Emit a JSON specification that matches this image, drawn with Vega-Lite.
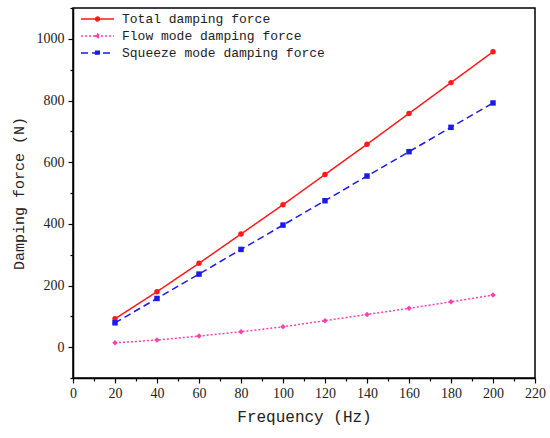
{
  "$schema": "https://vega.github.io/schema/vega-lite/v6.json",
  "autosize": "none",
  "width": 462,
  "height": 370,
  "padding": {"left": 73, "top": 8, "right": 15, "bottom": 60},
  "background": "white",
  "config": {
    "view": {"stroke": "black", "strokeWidth": 1.5},
    "axis": {
      "domainColor": "black", "domainWidth": 1.5,
      "tickColor": "black", "tickWidth": 1.2,
      "labelFont": "Liberation Serif", "labelFontSize": 14, "labelColor": "#222",
      "titleFont": "Liberation Mono", "titleFontWeight": "normal", "titleColor": "#222",
      "grid": false
    },
    "legend": {"labelFont": "Liberation Mono", "labelFontSize": 13, "labelColor": "#222", "labelLimit": 400}
  },
  "data": {"values": [
    {"freq": 20, "series": "Total damping force", "force": 92},
    {"freq": 40, "series": "Total damping force", "force": 180},
    {"freq": 60, "series": "Total damping force", "force": 272},
    {"freq": 80, "series": "Total damping force", "force": 367},
    {"freq": 100, "series": "Total damping force", "force": 462},
    {"freq": 120, "series": "Total damping force", "force": 560},
    {"freq": 140, "series": "Total damping force", "force": 658},
    {"freq": 160, "series": "Total damping force", "force": 758},
    {"freq": 180, "series": "Total damping force", "force": 858},
    {"freq": 200, "series": "Total damping force", "force": 958},
    {"freq": 20, "series": "Flow mode damping force", "force": 14},
    {"freq": 40, "series": "Flow mode damping force", "force": 23},
    {"freq": 60, "series": "Flow mode damping force", "force": 36},
    {"freq": 80, "series": "Flow mode damping force", "force": 50},
    {"freq": 100, "series": "Flow mode damping force", "force": 66},
    {"freq": 120, "series": "Flow mode damping force", "force": 86},
    {"freq": 140, "series": "Flow mode damping force", "force": 106},
    {"freq": 160, "series": "Flow mode damping force", "force": 126},
    {"freq": 180, "series": "Flow mode damping force", "force": 147},
    {"freq": 200, "series": "Flow mode damping force", "force": 169},
    {"freq": 20, "series": "Squeeze mode damping force", "force": 79},
    {"freq": 40, "series": "Squeeze mode damping force", "force": 158},
    {"freq": 60, "series": "Squeeze mode damping force", "force": 237},
    {"freq": 80, "series": "Squeeze mode damping force", "force": 317},
    {"freq": 100, "series": "Squeeze mode damping force", "force": 396},
    {"freq": 120, "series": "Squeeze mode damping force", "force": 475},
    {"freq": 140, "series": "Squeeze mode damping force", "force": 555},
    {"freq": 160, "series": "Squeeze mode damping force", "force": 634},
    {"freq": 180, "series": "Squeeze mode damping force", "force": 713},
    {"freq": 200, "series": "Squeeze mode damping force", "force": 792}
  ]},
  "encoding": {
    "x": {
      "field": "freq", "type": "quantitative",
      "scale": {"domain": [0, 220], "nice": false},
      "axis": {
        "title": "Frequency (Hz)", "titleFontSize": 16, "titlePadding": 8,
        "values": [0,10,20,30,40,50,60,70,80,90,100,110,120,130,140,150,160,170,180,190,200,210,220],
        "format": "d",
        "labelExpr": "datum.value % 20 === 0 ? datum.label : ''",
        "tickSize": {"condition": {"test": "datum.value % 20 === 0", "value": 5}, "value": 3},
        "labelPadding": 3, "labelFlush": false
      }
    },
    "y": {
      "field": "force", "type": "quantitative",
      "scale": {"domain": [-100, 1100], "nice": false, "zero": false},
      "axis": {
        "title": "Damping force (N)", "titleFontSize": 15, "titlePadding": 10,
        "values": [-100,0,100,200,300,400,500,600,700,800,900,1000,1100],
        "format": "d",
        "labelExpr": "datum.value % 200 === 0 && datum.value >= 0 && datum.value <= 1000 ? datum.label : ''",
        "tickSize": {"condition": {"test": "datum.value % 200 === 0", "value": 5}, "value": 3},
        "labelPadding": 4, "labelFlush": false
      }
    },
    "color": {
      "field": "series", "type": "nominal", "legend": null,
      "scale": {
        "domain": ["Total damping force", "Flow mode damping force", "Squeeze mode damping force"],
        "range": ["#ff1a1a", "#ff40b0", "#1a1aee"]
      }
    }
  },
  "layer": [
    {
      "mark": {"type": "line", "strokeWidth": 1.5},
      "encoding": {
        "strokeDash": {
          "field": "series", "type": "nominal",
          "sort": ["Total damping force", "Flow mode damping force", "Squeeze mode damping force"],
          "scale": {"range": [[1, 0], [2, 2], [7, 4]]},
          "legend": {
            "title": null, "orient": "none", "legendX": 7, "legendY": 4, "padding": 0,
            "symbolSize": 1089, "symbolStrokeWidth": 1.5, "clipHeight": 14, "rowPadding": 3,
            "labelOffset": 7,
            "encode": {"symbols": {"update": {
              "shape": {"signal": "datum.value === 'Total damping force' ? 'M-1,0H1M-0.12,0A0.12,0.12 0 1,1 0.12,0A0.12,0.12 0 1,1 -0.12,0Z' : datum.value === 'Flow mode damping force' ? 'M-1,0H1M0,-0.13L0.13,0L0,0.13L-0.13,0Z' : 'M-1,0H1M-0.11,-0.11H0.11V0.11H-0.11Z'"},
              "fill": {"scale": "color", "field": "value"},
              "stroke": {"scale": "color", "field": "value"},
              "fillOpacity": {"value": 1},
              "opacity": {"value": 1}
            }}}
          }
        }
      }
    },
    {
      "mark": {"type": "point", "filled": true, "opacity": 1, "size": 30},
      "encoding": {
        "shape": {
          "field": "series", "type": "nominal", "legend": null,
          "scale": {
            "domain": ["Total damping force", "Flow mode damping force", "Squeeze mode damping force"],
            "range": ["circle", "diamond", "square"]
          }
        }
      }
    }
  ]
}
